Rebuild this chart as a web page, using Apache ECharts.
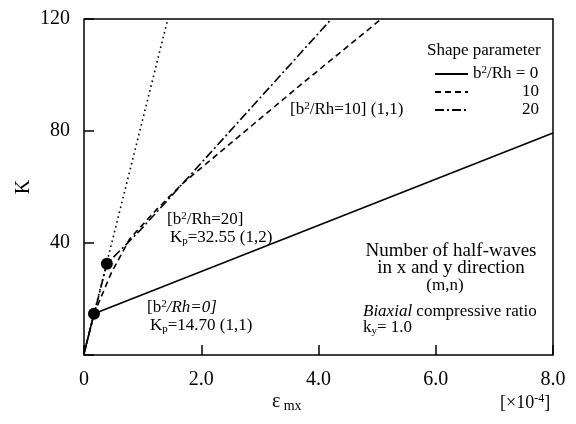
<!DOCTYPE html>
<html>
<head>
<meta charset="utf-8">
<script src="https://cdn.jsdelivr.net/npm/echarts@6/dist/echarts.min.js"></script>
<style>
  html, body { margin: 0; padding: 0; background: #fff; }
  #main { width: 576px; height: 424px; }
</style>
</head>
<body>
<div id="main"></div>
<script>
// strain eps_mx [x1e-4] vs load parameter K
var xTicks = [0, 2, 4, 6, 8];
var yTicks = [40, 80, 120];

// prebuckling path (dotted)
var epsPre = [0, 1.43];
var kPre = [0.5, 120];

// b^2/Rh = 0 (solid)
var eps0 = [0, 0.17, 8.0];
var k0 = [0.5, 14.7, 79.3];

// b^2/Rh = 10 (dashed)
var eps10 = [0, 0.17, 0.47, 0.78, 1.24, 1.69, 3.69, 5.07];
var k10 = [0.5, 14.7, 29.5, 41.5, 52, 61.4, 96.4, 120];

// b^2/Rh = 20 (dash-dot)
var eps20 = [0, 0.39, 0.96, 1.69, 4.22];
var k20 = [0.5, 32.55, 44.6, 61.4, 120];

// bifurcation points Kp
var epsKp = [0.17, 0.39];
var kKp = [14.7, 32.55];

function pairs(xs, ys) {
  return xs.map(function (x, i) { return [x, ys[i]]; });
}

var serif = "'Liberation Serif', 'DejaVu Serif', serif";
var rich = {
  t: { fontFamily: serif, fontSize: 17, color: '#000', lineHeight: 18 },
  i: { fontFamily: serif, fontSize: 17, color: '#000', fontStyle: 'italic', lineHeight: 18 },
  s: { fontFamily: serif, fontSize: 11, color: '#000', verticalAlign: 'top', lineHeight: 18 },
  b: { fontFamily: serif, fontSize: 11, color: '#000', verticalAlign: 'bottom', lineHeight: 14 },
  r: { fontFamily: serif, fontSize: 17, color: '#000', width: 66, align: 'right', lineHeight: 14 }
};

function label(x, y, text, align, size) {
  return {
    type: 'text', x: x, y: y, silent: true,
    style: {
      text: text, rich: rich, fill: '#000',
      font: (size || 17) + 'px ' + serif,
      textAlign: align || 'left', textVerticalAlign: 'middle'
    }
  };
}

var chart = echarts.init(document.getElementById('main'));
chart.setOption({
  animation: false,
  backgroundColor: '#fff',
  grid: {
    left: 84, right: 23, top: 19, bottom: 69,
    show: true, borderColor: '#000', borderWidth: 1.5
  },
  xAxis: {
    type: 'value', min: 0, max: 8, interval: 2,
    axisLine: { show: false },
    axisTick: { inside: true, length: 10, lineStyle: { color: '#000', width: 1.5 } },
    splitLine: { show: false },
    axisLabel: {
      margin: 15, color: '#000', fontFamily: serif, fontSize: 20,
      formatter: function (v) { return v === 0 ? '0' : v.toFixed(1); }
    }
  },
  yAxis: {
    type: 'value', min: 0, max: 120, interval: 40,
    name: 'K', nameLocation: 'middle', nameGap: 50, nameRotate: 90,
    nameMoveOverlap: false,
    nameTextStyle: { color: '#000', fontFamily: serif, fontSize: 20 },
    axisLine: { show: false },
    axisTick: { inside: true, length: 10, lineStyle: { color: '#000', width: 1.5 } },
    splitLine: { show: false },
    axisLabel: {
      margin: 14, color: '#000', fontFamily: serif, fontSize: 20,
      formatter: function (v) { return v === 0 ? '' : String(v); }
    }
  },
  legend: {
    orient: 'vertical', right: 32, top: 60,
    itemWidth: 33, itemHeight: 14, itemGap: 1,
    data: ['0', '10', '20'],
    itemStyle: { opacity: 0 },
    textStyle: { rich: rich },
    formatter: function (name) {
      return name === '0' ? '{t|b}{s|2}{t|/Rh = 0}' : '{r|' + name + '}';
    }
  },
  graphic: [
    label(427, 51, 'Shape parameter'),
    label(290, 110, '{t|[b}{s|2}{t|/Rh=10] (1,1)}'),
    label(167, 220, '{t|[b}{s|2}{t|/Rh=20]}'),
    label(170, 238, '{t|K}{b|p}{t|=32.55 (1,2)}'),
    label(147, 308, '{t|[b}{s|2}{i|/Rh=0]}'),
    label(150, 326, '{t|K}{b|p}{t|=14.70 (1,1)}'),
    label(451, 251, 'Number of half-waves', 'center', 19),
    label(451, 268, 'in x and y direction', 'center', 19),
    label(445, 286, '(m,n)', 'center'),
    label(363, 312, '{i|Biaxial} {t|compressive ratio}'),
    label(363, 328, '{t|k}{b|y}{t|= 1.0}'),
    {
      type: 'text', x: 272, y: 402, silent: true,
      style: {
        text: '{e|ε} {b|mx}', fill: '#000',
        rich: {
          e: { fontFamily: serif, fontSize: 20, color: '#000', lineHeight: 22 },
          b: { fontFamily: serif, fontSize: 14, color: '#000', verticalAlign: 'bottom', lineHeight: 16 }
        },
        textVerticalAlign: 'middle'
      }
    },
    {
      type: 'text', x: 500, y: 403, silent: true,
      style: {
        text: '{e|[×10}{s|-4}{e|]}', fill: '#000',
        rich: {
          e: { fontFamily: serif, fontSize: 18, color: '#000', lineHeight: 20 },
          s: { fontFamily: serif, fontSize: 12, color: '#000', verticalAlign: 'top', lineHeight: 20 }
        },
        textVerticalAlign: 'middle'
      }
    }
  ],
  series: [
    {
      name: 'prebuckling', type: 'line', data: pairs(epsPre, kPre),
      symbol: 'none', lineStyle: { color: '#000', width: 1.6, type: [1.6, 3.4] }
    },
    {
      name: '0', type: 'line', data: pairs(eps0, k0),
      symbol: 'none', color: '#000', lineStyle: { color: '#000', width: 1.6, type: 'solid' }
    },
    {
      name: '10', type: 'line', data: pairs(eps10, k10),
      symbol: 'none', color: '#000', lineStyle: { color: '#000', width: 1.6, type: [6, 4] }
    },
    {
      name: '20', type: 'line', data: pairs(eps20, k20),
      symbol: 'none', color: '#000', lineStyle: { color: '#000', width: 1.6, type: [9, 3, 2, 3] }
    },
    {
      name: 'Kp', type: 'scatter', data: pairs(epsKp, kKp),
      symbol: 'circle', symbolSize: 12, itemStyle: { color: '#000', opacity: 1 }, z: 5
    }
  ]
});
</script>
</body>
</html>
